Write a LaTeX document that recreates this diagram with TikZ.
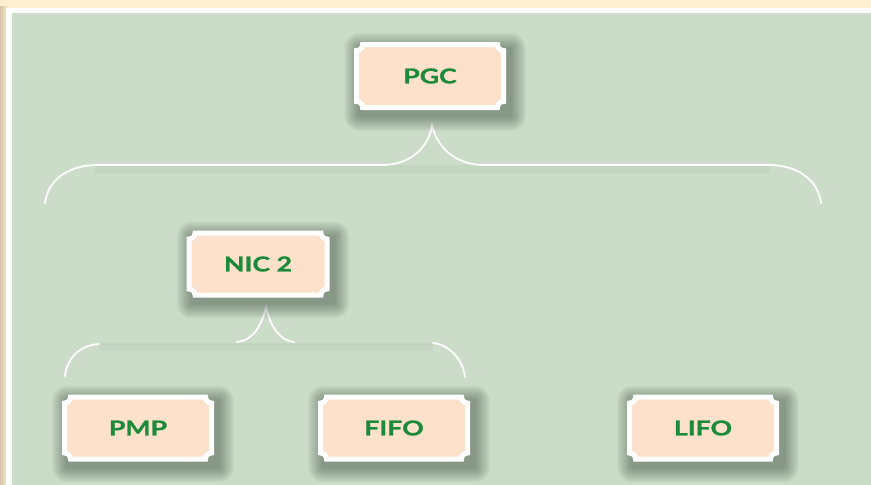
\documentclass[tikz,border=0pt]{standalone}
\usepackage{fontspec}
\usetikzlibrary{calc}
\newfontfamily\lblfont{Lato}[FakeStretch=1.3, BoldFeatures={FakeBold=1.2}]
\definecolor{cream}{HTML}{FEEFD2}
\definecolor{creamdark}{HTML}{D6C6A8}
\definecolor{bggreen}{HTML}{CBDDC8}
\definecolor{peach}{HTML}{FEE1CB}
\definecolor{txtgreen}{HTML}{1B8A3B}
\definecolor{shadowc}{HTML}{2F3D33}
\pgfdeclarelayer{bg}
\pgfsetlayers{bg,main}
\tikzset{
  lbl/.style={inner sep=0pt, outer sep=0pt, text=txtgreen,
    font=\lblfont\bfseries\fontsize{20.5}{20.5}\selectfont},
  wide/.style={minimum width=147pt, minimum height=62pt},
  narrow/.style={minimum width=138pt, minimum height=62pt},
  ticket/.style={draw=white, line width=5pt, fill=peach},
  softshadow/.style={fill=shadowc, opacity=0.035},
  brace/.style={draw=white, line width=1.8pt, line cap=round},
  braceshadow/.style={draw=black, opacity=0.03, line width=8pt}
}
\newcommand{\ticketshadow}[1]{%
  \foreach \k in {0,...,13}{%
    \pgfmathsetmacro\ee{15-1.1*\k}%
    \path[softshadow, rounded corners=\ee pt]
      ($(#1.south west)+({2.5-\ee},{-8.5-\ee})$) rectangle
      ($(#1.north east)+({7.5+\ee},{-3.5+\ee})$);}}
\newcommand{\ticketshape}[1]{%
  \path[ticket] ($(#1.north west)+(6pt,0)$) -- ($(#1.north east)+(-6pt,0)$)
    arc[start angle=180, end angle=270, radius=6pt]
    -- ($(#1.south east)+(0,6pt)$)
    arc[start angle=90, end angle=180, radius=6pt]
    -- ($(#1.south west)+(6pt,0)$)
    arc[start angle=0, end angle=90, radius=6pt]
    -- ($(#1.north west)+(0,-6pt)$)
    arc[start angle=270, end angle=360, radius=6pt]
    -- cycle;}
\begin{document}
\begin{tikzpicture}[x=1pt,y=1pt]
\useasboundingbox (0,0) rectangle (871,-485);
% nodes
\node[lbl, wide, minimum height=63pt] (pgc) at (430,-76) {PGC};
\node[lbl, narrow] (nic) at (258,-264) {NIC 2};
\node[lbl, wide] (pmp) at (138,-428) {PMP};
\node[lbl, wide] (fifo) at (394,-428) {FIFO};
\node[lbl, wide] (lifo) at (703,-428) {LIFO};
\coordinate (pgctip) at ($(pgc.south)+(2,-18)$);
\coordinate (nictip) at ($(nic.south)+(8,-12)$);
\begin{pgfonlayer}{bg}
  \fill[cream] (0,0) rectangle (871,-485);
  \shade[left color=creamdark, right color=cream] (0,0) rectangle (9,-485);
  \fill[cream] (0,0) rectangle (871,-6);
  \fill[white] (6,-8) rectangle (871,-485);
  \fill[bggreen] (12,-13) rectangle (871,-485);
  % top brace
  \path[braceshadow] (95,-169) -- (770,-169);
  \path[brace] (45,-203) .. controls (48,-180) and (68,-165) .. (98,-165)
    -- (382,-165) .. controls (408,-165) and (428,-150) .. (pgctip)
    .. controls (438,-150) and (458,-165) .. (484,-165)
    -- (768,-165) .. controls (798,-165) and (818,-180) .. (821,-203);
  % lower brace
  \path[braceshadow] (99,-347) -- (433,-347);
  \path[brace] (65,-376) .. controls (67,-358) and (80,-345) .. (99,-344);
  \path[brace] (237,-342) .. controls (252,-341) and (262,-326) .. (nictip)
    .. controls (270,-326) and (280,-341) .. (294,-342);
  \path[brace] (433,-343) .. controls (450,-345) and (463,-360) .. (465,-377);
  % tickets
  \ticketshadow{pgc}\ticketshape{pgc}
  \ticketshadow{nic}\ticketshape{nic}
  \ticketshadow{pmp}\ticketshape{pmp}
  \ticketshadow{fifo}\ticketshape{fifo}
  \ticketshadow{lifo}\ticketshape{lifo}
\end{pgfonlayer}
\end{tikzpicture}
\end{document}
